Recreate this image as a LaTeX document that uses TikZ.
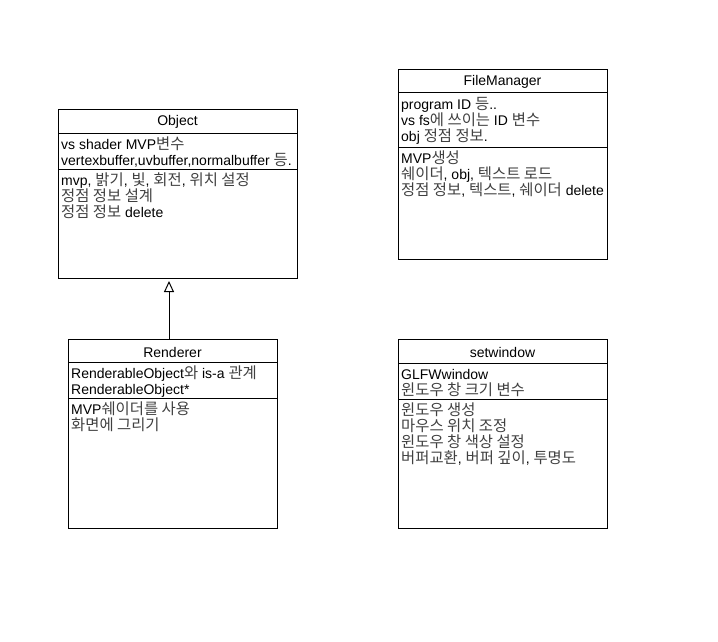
\documentclass[tikz,border=0pt]{standalone}
\usepackage{fontspec}
\setmainfont{Liberation Sans}
\newfontfamily\krfont[Scale=1.1]{Noto Sans CJK KR}
\usetikzlibrary{arrows.meta,positioning}
\newcommand{\ko}[1]{{\krfont\color{black!75}#1}}

\tikzset{
  cls/.style={draw, rectangle, anchor=north west, inner sep=0pt, line width=1pt},
  ttl/.style={inner sep=0pt, font=\fontsize{14}{16}\selectfont},
  txt/.style={anchor=north west, align=left, inner sep=0pt, font=\fontsize{14}{16}\selectfont},
  sep/.style={line width=1pt},
  inherit/.style={-{Triangle[open,length=11pt,width=10pt]}, line width=1pt, shorten >=2pt}
}

\begin{document}
\begin{tikzpicture}[x=1pt, y=-1pt]
    \useasboundingbox (0,0) rectangle (718,642);
    % Object
    \node [cls, minimum width=239pt, minimum height=169pt] (obj) at (58,109) {};
    \node [ttl] (objname) at (177.5,122) {Object};
    \draw [sep] (58,133) -- (297,133);
    \draw [sep] (58,169) -- (297,169);
    \node [txt] (objattr) at (61,136) {\rule{0pt}{13pt}vs shader MVP\ko{변수}\\vertexbuffer,uvbuffer,normalbuffer \ko{등}.};
    \node [txt] (objop) at (61,172) {\rule{0pt}{13pt}mvp, \ko{밝기}, \ko{빛}, \ko{회전}, \ko{위치 설정}\\\ko{정점 정보 설계}\\\ko{정점 정보} delete};
    % FileManager
    \node [cls, minimum width=209pt, minimum height=190pt] (fm) at (398,69) {};
    \node [ttl] (fmname) at (502.5,82) {FileManager};
    \draw [sep] (398,93) -- (607,93);
    \draw [sep] (398,147) -- (607,147);
    \node [txt] (fmattr) at (401,96) {\rule{0pt}{13pt}program ID \ko{등}..\\vs fs\ko{에 쓰이는} ID \ko{변수}\\obj \ko{정점 정보}.};
    \node [txt] (fmop) at (401,150) {\rule{0pt}{13pt}MVP\ko{생성}\\\ko{쉐이더}, obj, \ko{텍스트 로드}\\\ko{정점 정보}, \ko{텍스트}, \ko{쉐이더} delete};
    % Renderer
    \node [cls, minimum width=209pt, minimum height=189pt] (rend) at (68,339) {};
    \node [ttl] (rendname) at (172.5,352) {Renderer};
    \draw [sep] (68,362) -- (277,362);
    \draw [sep] (68,398) -- (277,398);
    \node [txt] (rendattr) at (71,365) {\rule{0pt}{13pt}RenderableObject\ko{와} is-a \ko{관계}\\RenderableObject*};
    \node [txt] (rendop) at (71,401) {\rule{0pt}{13pt}MVP\ko{쉐이더를 사용}\\\ko{화면에 그리기}};
    % setwindow
    \node [cls, minimum width=209pt, minimum height=189pt] (win) at (398,339) {};
    \node [ttl] (winname) at (502.5,352) {setwindow};
    \draw [sep] (398,363) -- (607,363);
    \draw [sep] (398,399) -- (607,399);
    \node [txt] (winattr) at (401,366) {\rule{0pt}{13pt}GLFWwindow\\\ko{윈도우 창 크기 변수}};
    \node [txt] (winop) at (401,402) {\rule{0pt}{13pt}\ko{윈도우 생성}\\\ko{마우스 위치 조정}\\\ko{윈도우 창 색상 설정}\\\ko{버퍼교환}, \ko{버퍼 깊이}, \ko{투명도}};
    % inheritance
    \coordinate (inh) at (169,339);
    \draw [inherit] (inh) -- (inh |- obj.south);
\end{tikzpicture}
\end{document}
